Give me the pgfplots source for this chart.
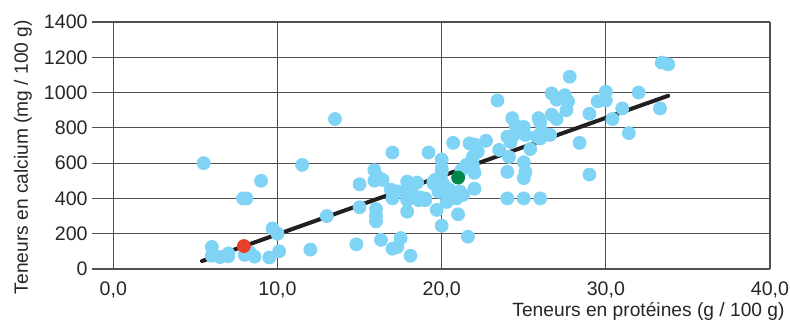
\documentclass[border=0pt]{standalone}
\usepackage{fontspec}
\setmainfont{Liberation Sans}
\usepackage{pgfplots}
\pgfplotsset{compat=1.18}
\definecolor{dotblue}{HTML}{7FD3F5}
\definecolor{dotred}{HTML}{E8402A}
\definecolor{dotgreen}{HTML}{00874A}
\definecolor{regline}{HTML}{231F20}
\definecolor{gridc}{HTML}{505050}
\begin{document}
\begin{tikzpicture}
\begin{axis}[
  scale only axis,
  width=339pt, height=123.5pt,
  xmin=-1.3, xmax=40, ymin=0, ymax=1400,
  xtick={0,10,20,30,40},
  xticklabels={{0,0},{10,0},{20,0},{30,0},{40,0}},
  ytick={0,200,400,600,800,1000,1200,1400},
  yticklabels={0,200,400,600,800,1000,1200,1400},
  grid=major,
  major grid style={draw=gridc, line width=0.55pt},
  axis line style={draw=none},
  major tick length=0pt,
  tick label style={font=\fontsize{9.8}{11}\selectfont, text=black!85},
  xticklabel style={inner sep=0pt, anchor=north, yshift=-6pt},
  yticklabel style={inner sep=0pt, anchor=east, xshift=-2pt},
  clip=false,
  xlabel={Teneurs en protéines (g / 100 g)},
  ylabel={Teneurs en calcium (mg / 100 g)},
  label style={font=\fontsize{9.6}{11}\selectfont, text=black!85},
  xlabel style={at={(rel axis cs:1,0)}, anchor=east, inner sep=0pt, xshift=7.5pt, yshift=-21pt},
  ylabel style={at={(rel axis cs:0,0.453)}, anchor=center, inner sep=0pt, yshift=34.5pt},
]
\addplot[only marks, mark=*, mark size=3.25pt, color=dotblue] table {
x y
5.5 600
11.5 590
9.0 500
7.9 400
8.1 400
13.0 300
9.7 230
10.0 200
12.0 110
10.1 100
9.5 65
6.0 125
6.0 75
6.5 68
7.0 72
7.0 88
8.0 80
8.3 95
8.6 70
13.5 850
17.0 660
15.9 560
16.2 515
15.9 500
16.4 505
15.0 480
16.9 450
17.3 440
17.0 400
17.9 495
18.5 490
17.9 450
17.9 390
18.6 390
19.0 400
18.3 420
18.7 405
19.5 485
19.2 660
15.0 350
16.0 340
16.0 300
16.0 270
17.9 325
14.8 140
16.3 165
17.5 175
17.0 115
17.3 125
18.1 75
20.0 620
20.0 570
20.0 550
20.0 500
20.0 470
20.0 440
20.4 450
19.7 335
20.0 245
20.7 715
21.7 712
22.0 705
22.2 665
22.7 727
21.9 637
21.9 590
21.5 590
22.0 545
21.9 570
22.0 455
19.5 495
20.2 467
19.8 438
20.5 448
21.1 440
20.7 410
21.3 420
19.0 390
20.3 380
21.0 310
21.6 183
20.9 400
19.6 505
21.2 560
23.4 955
24.0 400
25.0 400
26.0 400
24.0 550
25.0 605
25.0 515
25.1 550
23.5 675
24.1 635
25.4 680
24.0 750
24.3 855
24.5 815
25.0 805
25.1 760
24.4 760
24.2 720
25.8 750
26.1 780
26.0 740
26.6 760
26.0 830
25.9 855
26.7 875
27.0 850
26.7 995
27.0 960
27.5 985
27.7 950
27.6 900
27.8 1090
28.4 715
29.0 535
29.0 880
29.5 950
30.0 1005
30.0 955
30.4 850
31.0 910
31.4 770
32.0 1000
33.3 910
33.4 1170
33.8 1160
};
\addplot[regline, line width=2pt, line cap=round] coordinates {(5.4,45) (33.8,982)};
\addplot[only marks, mark=*, mark size=3.25pt, color=dotred] coordinates {(7.95,130)};
\addplot[only marks, mark=*, mark size=3.25pt, color=dotgreen] coordinates {(21.0,518)};
\end{axis}
\pgfresetboundingbox
\path (-46pt,-28pt) rectangle (349pt,134.5pt);
\end{tikzpicture}
\end{document}
